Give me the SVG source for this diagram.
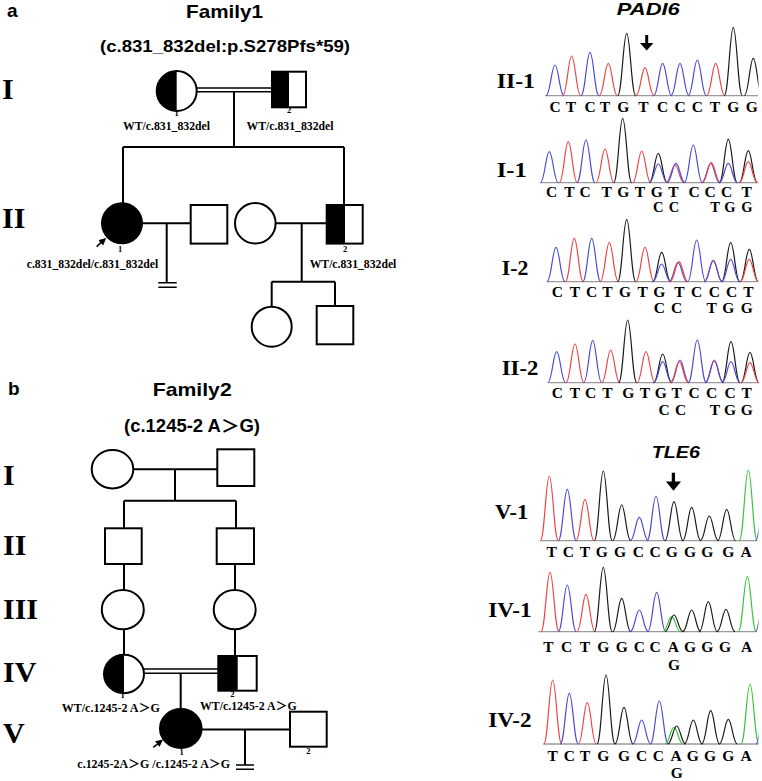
<svg xmlns="http://www.w3.org/2000/svg" xmlns:xlink="http://www.w3.org/1999/xlink" width="762" height="781" viewBox="0 0 762 781">
<style>
.ln{stroke:#000;stroke-width:2;fill:none}
.dl{stroke:#000;stroke-width:1.6;fill:none}
.sym{stroke:#000;stroke-width:2;fill:#fff}
.blk{fill:#000}
.c{stroke:#4b4bd8;fill:none}
.t{stroke:#ee4444;fill:none}
.g{stroke:#1a1a1a;fill:none}
.a{stroke:#3cc43c;fill:none}
.ax{stroke:#9a9a9a;stroke-width:1.3}
.rn{font-family:"Liberation Serif",serif;font-weight:bold;font-size:30px}
.lab{font-family:"Liberation Serif","Noto Sans CJK SC",serif;font-weight:bold;font-size:11.8px;text-anchor:middle}
.num{font-family:"Liberation Serif",serif;font-weight:bold;font-size:8.5px;text-anchor:middle;fill:#000}
.seq{font-family:"Liberation Serif",serif;font-weight:bold;font-size:15.5px;text-anchor:middle}
.seq2{font-family:"Liberation Serif",serif;font-weight:bold;font-size:14.5px;text-anchor:middle}
.sl{font-family:"Liberation Serif",serif;font-weight:bold;font-size:21px}
.hd{font-family:"Liberation Sans","Noto Sans CJK SC",Arial,sans-serif;font-weight:bold}
.gene{font-family:"Liberation Sans",Arial,sans-serif;font-weight:bold;font-style:italic;font-size:17px;text-anchor:middle}
</style>
<defs>
<path id="p" d="M-9,0C-4.8,0 -3.4,-1 0,-1S4.8,0 9,0" vector-effect="non-scaling-stroke" stroke-width="1.2"/>
<marker id="ah" viewBox="0 0 10 10" refX="8" refY="5" markerWidth="4.5" markerHeight="4.5" orient="auto"><path d="M0,0L10,5L0,10z" fill="#000"/></marker>
<clipPath id="cp"><rect x="530" y="0" width="228.5" height="781"/></clipPath>
</defs>

<!-- panel letters and titles -->
<text class="hd" x="7" y="17" font-size="19">a</text>
<text class="hd" x="224.5" y="17.5" font-size="18.5" text-anchor="middle" textLength="77" lengthAdjust="spacingAndGlyphs">Family1</text>
<text class="hd" x="225" y="52" font-size="17" text-anchor="middle" textLength="250" lengthAdjust="spacingAndGlyphs">(c.831_832del:p.S278Pfs*59)</text>
<text class="hd" x="8" y="395" font-size="19">b</text>
<text class="hd" x="192.2" y="396" font-size="18.5" text-anchor="middle" textLength="79" lengthAdjust="spacingAndGlyphs">Family2</text>
<text class="hd" x="192" y="431.7" font-size="17.5" text-anchor="middle" textLength="136" lengthAdjust="spacingAndGlyphs">(c.1245-2 A＞G)</text>

<!-- generation numerals -->
<text class="rn" x="2" y="99">I</text>
<text class="rn" x="2" y="228">II</text>
<text class="rn" x="3" y="485">I</text>
<text class="rn" x="3" y="555">II</text>
<text class="rn" x="3" y="619">III</text>
<text class="rn" x="3" y="681.7">IV</text>
<text class="rn" x="3" y="743">V</text>

<!-- connectors -->
<g id="connectors">
<path class="dl" d="M196.7,88H272M196.7,91.8H272"/>
<path class="ln" d="M234,91.8V147M123,147H344M123,147V203.3M344,147V205"/>
<path class="ln" d="M142,223.3H190.7M166.7,223.3V282.7M275.3,223.3H326.7M301.7,223.3V281.7M271.7,281.7H335M271.7,281.7V306.7M335,281.7V306"/>
<path class="dl" d="M158.3,282.7H176.7M158.3,287.3H176.7"/>
<path class="ln" d="M133.3,469.3H217.3M175,469.3V500.7M124,500.7H236M124,500.7V528.3M236,500.7V528.3M124,564V590M235,564V590M124,629.3V655M235,629.3V656"/>
<path class="dl" d="M144,669H218.3M144,673.3H218.3"/>
<path class="ln" d="M180.7,673.3V709.3M201.7,729.5H290M245,729.5V765"/>
<path class="dl" d="M236,765H254M236,769.3H254"/>
</g>

<!-- Family 1 nodes -->
<g id="f1-I-1">
<circle class="sym" cx="176.7" cy="91" r="20"/>
<path class="blk" d="M176.7,71A20,20 0 0 0 176.7,111Z"/>
<text class="num" x="176.7" y="116">1</text>
<text class="lab" x="166.5" y="130" textLength="87" lengthAdjust="spacingAndGlyphs">WT/c.831_832del</text>
</g>
<g id="f1-I-2">
<rect class="sym" x="272" y="71.7" width="34" height="35.6"/>
<rect class="blk" x="272" y="71.7" width="17" height="35.6"/>
<text class="num" x="289" y="113.3">2</text>
<text class="lab" x="290" y="130" textLength="87" lengthAdjust="spacingAndGlyphs">WT/c.831_832del</text>
</g>
<g id="f1-II-1">
<circle cx="122" cy="223.3" r="20" fill="#000" stroke="#000" stroke-width="2"/>
<path d="M96.7,246.7L105,239" stroke="#000" stroke-width="1.6" marker-end="url(#ah)"/>
<text class="num" x="120" y="251.7">1</text>
<text class="lab" x="92.5" y="268" textLength="131.6" lengthAdjust="spacingAndGlyphs">c.831_832del/c.831_832del</text>
</g>
<g id="f1-II-spouse1">
<rect class="sym" x="190.7" y="205" width="36.6" height="38.6"/>
</g>
<g id="f1-II-spouse2">
<circle class="sym" cx="255.3" cy="223.3" r="20.3"/>
</g>
<g id="f1-II-2">
<rect class="sym" x="326.7" y="205" width="36" height="38.6"/>
<rect class="blk" x="326.7" y="205" width="18.3" height="38.6"/>
<text class="num" x="345" y="251.7">2</text>
<text class="lab" x="353" y="268" textLength="86.7" lengthAdjust="spacingAndGlyphs">WT/c.831_832del</text>
</g>
<g id="f1-III-1">
<circle class="sym" cx="271.7" cy="326.7" r="20"/>
</g>
<g id="f1-III-2">
<rect class="sym" x="316.7" y="306" width="36.6" height="38.3"/>
</g>

<!-- Family 2 nodes -->
<g id="f2-I-1"><ellipse class="sym" cx="112.5" cy="469.2" rx="20.8" ry="19.2"/></g>
<g id="f2-I-2"><rect class="sym" x="217.3" y="449.3" width="37" height="36.7"/></g>
<g id="f2-II-1"><rect class="sym" x="105" y="528.3" width="36.7" height="35.7"/></g>
<g id="f2-II-2"><rect class="sym" x="216.7" y="528.3" width="37.3" height="35.7"/></g>
<g id="f2-III-1"><ellipse class="sym" cx="122.8" cy="609.7" rx="21" ry="19.6"/></g>
<g id="f2-III-2"><ellipse class="sym" cx="234.7" cy="609.7" rx="21" ry="19.6"/></g>
<g id="f2-IV-1">
<ellipse class="sym" cx="124" cy="674" rx="20" ry="19.2"/>
<path class="blk" d="M124,654.8A20,19.2 0 0 0 124,693.2Z"/>
<text class="num" x="122.7" y="698.3">1</text>
<text class="lab" x="110.8" y="711.7" textLength="98.3" lengthAdjust="spacingAndGlyphs">WT/c.1245-2 A＞G</text>
</g>
<g id="f2-IV-2">
<rect class="sym" x="218.3" y="656" width="38.4" height="34.7"/>
<rect class="blk" x="218.3" y="656" width="19.4" height="34.7"/>
<text class="num" x="232.3" y="696.7">2</text>
<text class="lab" x="248.3" y="710" textLength="96.7" lengthAdjust="spacingAndGlyphs">WT/c.1245-2 A＞G</text>
</g>
<g id="f2-V-1">
<ellipse cx="180.8" cy="728.5" rx="20.8" ry="19.5" fill="#000" stroke="#000" stroke-width="2"/>
<path d="M153.3,747.3L161.8,740.5" stroke="#000" stroke-width="1.6" marker-end="url(#ah)"/>
<text class="num" x="181.7" y="755">1</text>
<text class="lab" x="153.7" y="768.3" textLength="152.7" lengthAdjust="spacingAndGlyphs">c.1245-2A＞G /c.1245-2 A＞G</text>
</g>
<g id="f2-V-2">
<rect class="sym" x="290" y="711.7" width="36.7" height="35"/>
<text class="num" x="308.3" y="754.3">2</text>
</g>

<!-- Chromatograms -->
<text class="gene" x="648.3" y="15" textLength="63" lengthAdjust="spacingAndGlyphs">PADI6</text>
<path d="M646.7,35V44" stroke="#000" stroke-width="3"/>
<path d="M640,43H653.4L646.7,50.5Z" fill="#000"/>
<text class="gene" x="675.8" y="458.3" font-size="18.5" textLength="48" lengthAdjust="spacingAndGlyphs">TLE6</text>
<path d="M673.4,472.7V483" stroke="#000" stroke-width="3.3"/>
<path d="M666,481.5H681L673.5,490.7Z" fill="#000"/>

<g id="seq-II-1">
<text class="sl" x="496.7" y="88.3" textLength="38.3" lengthAdjust="spacingAndGlyphs">II-1</text>
<line class="ax" x1="545" y1="95.7" x2="758" y2="95.7"/>
<g clip-path="url(#cp)"><g transform="translate(0,95.7)">
<use href="#p" class="c" transform="translate(555,0) scale(1,30.7)"/>
<use href="#p" class="t" transform="translate(571.7,0) scale(1,39.7)"/>
<use href="#p" class="c" transform="translate(590,0) scale(1,43.4)"/>
<use href="#p" class="t" transform="translate(608.3,0) scale(1,32.4)"/>
<use href="#p" class="g" transform="translate(626.7,0) scale(1,62.4)"/>
<use href="#p" class="t" transform="translate(645,0) scale(1,28)"/>
<use href="#p" class="c" transform="translate(662.7,0) scale(1,32.4)"/>
<use href="#p" class="c" transform="translate(680,0) scale(1,32.4)"/>
<use href="#p" class="c" transform="translate(697.3,0) scale(1,35.7)"/>
<use href="#p" class="t" transform="translate(715.7,0) scale(1,32.4)"/>
<use href="#p" class="g" transform="translate(733.3,0) scale(1,68.4)"/>
<use href="#p" class="g" transform="translate(753.3,0) scale(1,37.4)"/>
</g></g>
<text class="seq" x="555 571 590 605 623.3 643.3 662.7 680 697.3 715 733.3 751.7" y="111.7">CTCTGTCCCTGG</text>
</g>

<g id="seq-I-1">
<text class="sl" x="496.7" y="176.7" textLength="30" lengthAdjust="spacingAndGlyphs">I-1</text>
<line class="ax" x1="540.7" y1="182.7" x2="757.3" y2="182.7"/>
<g clip-path="url(#cp)"><g transform="translate(0,182.7)">
<use href="#p" class="c" transform="translate(549.3,0) scale(1,31)"/>
<use href="#p" class="t" transform="translate(568.3,0) scale(1,41)"/>
<use href="#p" class="c" transform="translate(586,0) scale(1,42.7)"/>
<use href="#p" class="t" transform="translate(605,0) scale(1,33.7)"/>
<use href="#p" class="g" transform="translate(622.7,0) scale(1,64.4)"/>
<use href="#p" class="t" transform="translate(641.7,0) scale(1,31.7)"/>
<use href="#p" class="g" transform="translate(658.3,0) scale(1,29.4)"/>
<use href="#p" class="c" transform="translate(658.3,0) scale(1,18.7)"/>
<use href="#p" class="t" transform="translate(675,0) scale(1,17.7)"/>
<use href="#p" class="c" transform="translate(676,0) scale(1,19.4)"/>
<use href="#p" class="c" transform="translate(693.3,0) scale(1,37.7)"/>
<use href="#p" class="c" transform="translate(710.7,0) scale(1,19.2)"/>
<use href="#p" class="t" transform="translate(711.3,0) scale(1,20)"/>
<use href="#p" class="g" transform="translate(728.3,0) scale(1,43.4)"/>
<use href="#p" class="c" transform="translate(728.3,0) scale(1,19.4)"/>
<use href="#p" class="g" transform="translate(748.3,0) scale(1,32)"/>
<use href="#p" class="t" transform="translate(748.3,0) scale(1,21)"/>
</g></g>
<text class="seq" x="551.7 569.3 585 606.7 623.3 640 656.7 673.3 694 710 726.7 746.7" y="196.8">CTCTGTGTCCCT</text>
<text class="seq2" x="658.3 674 715 730 747" y="212">CCTGG</text>
</g>

<g id="seq-I-2">
<text class="sl" x="501.7" y="275" textLength="26.7" lengthAdjust="spacingAndGlyphs">I-2</text>
<line class="ax" x1="546.7" y1="281.7" x2="757.3" y2="281.7"/>
<g clip-path="url(#cp)"><g transform="translate(0,281.7)">
<use href="#p" class="c" transform="translate(556,0) scale(1,34.4)"/>
<use href="#p" class="t" transform="translate(574.3,0) scale(1,43.4)"/>
<use href="#p" class="c" transform="translate(591.7,0) scale(1,43.4)"/>
<use href="#p" class="t" transform="translate(609.3,0) scale(1,39.4)"/>
<use href="#p" class="g" transform="translate(626.7,0) scale(1,62.4)"/>
<use href="#p" class="t" transform="translate(645,0) scale(1,34.4)"/>
<use href="#p" class="g" transform="translate(661.7,0) scale(1,29.4)"/>
<use href="#p" class="c" transform="translate(661.7,0) scale(1,17.7)"/>
<use href="#p" class="c" transform="translate(678,0) scale(1,19)"/>
<use href="#p" class="t" transform="translate(679,0) scale(1,20)"/>
<use href="#p" class="c" transform="translate(696.7,0) scale(1,41.7)"/>
<use href="#p" class="t" transform="translate(713.3,0) scale(1,21.7)"/>
<use href="#p" class="c" transform="translate(713.3,0) scale(1,20.7)"/>
<use href="#p" class="g" transform="translate(730.7,0) scale(1,39.4)"/>
<use href="#p" class="c" transform="translate(730.7,0) scale(1,22.4)"/>
<use href="#p" class="g" transform="translate(749.3,0) scale(1,32.4)"/>
<use href="#p" class="t" transform="translate(749.3,0) scale(1,22.4)"/>
</g></g>
<text class="seq" x="557.3 575 591.7 607.3 625 642.7 659.3 679.3 696.7 714.3 731.7 748.3" y="297.3">CTCTGTGTCCCT</text>
<text class="seq" x="659.3 676.7 711.7 728.3 746.7" y="313.3">CCTGG</text>
</g>

<g id="seq-II-2">
<text class="sl" x="501.7" y="375" textLength="36.7" lengthAdjust="spacingAndGlyphs">II-2</text>
<line class="ax" x1="549" y1="382.7" x2="758" y2="382.7"/>
<g clip-path="url(#cp)"><g transform="translate(0,382.7)">
<use href="#p" class="c" transform="translate(556.7,0) scale(1,31)"/>
<use href="#p" class="t" transform="translate(575,0) scale(1,38.7)"/>
<use href="#p" class="c" transform="translate(592.7,0) scale(1,42)"/>
<use href="#p" class="t" transform="translate(610.7,0) scale(1,32.7)"/>
<use href="#p" class="g" transform="translate(627.7,0) scale(1,62.7)"/>
<use href="#p" class="t" transform="translate(646,0) scale(1,31)"/>
<use href="#p" class="g" transform="translate(662.7,0) scale(1,28.7)"/>
<use href="#p" class="c" transform="translate(662.7,0) scale(1,21)"/>
<use href="#p" class="c" transform="translate(680,0) scale(1,22.7)"/>
<use href="#p" class="t" transform="translate(679.3,0) scale(1,21)"/>
<use href="#p" class="c" transform="translate(697.3,0) scale(1,42.7)"/>
<use href="#p" class="t" transform="translate(714.3,0) scale(1,22.7)"/>
<use href="#p" class="c" transform="translate(714.3,0) scale(1,21.7)"/>
<use href="#p" class="g" transform="translate(731,0) scale(1,41)"/>
<use href="#p" class="c" transform="translate(731,0) scale(1,21)"/>
<use href="#p" class="g" transform="translate(750,0) scale(1,30.4)"/>
<use href="#p" class="t" transform="translate(750,0) scale(1,20)"/>
</g></g>
<text class="seq" x="557.3 575 590.7 607.3 628.3 645 660.7 676.7 694 711.7 730 746.7" y="398.3">CTCTGTGTCCCT</text>
<text class="seq" x="664 680.7 715 730 746.7" y="415">CCTGG</text>
</g>

<g id="seq-V-1">
<text class="sl" x="495" y="519.3" textLength="33.3" lengthAdjust="spacingAndGlyphs">V-1</text>
<line class="ax" x1="540.7" y1="540.7" x2="756.7" y2="540.7"/>
<g clip-path="url(#cp)"><g transform="translate(0,540.7)">
<use href="#p" class="t" transform="translate(549.3,0) scale(1,64.7)"/>
<use href="#p" class="c" transform="translate(567.3,0) scale(1,51.4)"/>
<use href="#p" class="t" transform="translate(585,0) scale(1,41.4)"/>
<use href="#p" class="g" transform="translate(603.3,0) scale(1,69.7)"/>
<use href="#p" class="g" transform="translate(621.7,0) scale(1,35.7)"/>
<use href="#p" class="c" transform="translate(639.3,0) scale(1,23.4)"/>
<use href="#p" class="c" transform="translate(656,0) scale(1,44.7)"/>
<use href="#p" class="g" transform="translate(674,0) scale(1,39)"/>
<use href="#p" class="g" transform="translate(691.7,0) scale(1,33.4)"/>
<use href="#p" class="g" transform="translate(709.3,0) scale(1,24.7)"/>
<use href="#p" class="g" transform="translate(726.7,0) scale(1,31.4)"/>
<use href="#p" class="a" transform="translate(748.3,0) scale(1,70.7)"/>
<use href="#p" class="c" transform="translate(764.5,0) scale(1,40)"/>
</g></g>
<text class="seq" x="551.7 568.3 585 601.7 620 638.3 655 671.7 690 707.3 728.3 746" y="557.3">TCTGGCCGGGGA</text>
</g>

<g id="seq-IV-1">
<text class="sl" x="488.3" y="616.7" textLength="43.3" lengthAdjust="spacingAndGlyphs">IV-1</text>
<line class="ax" x1="538.3" y1="631.7" x2="756.7" y2="631.7"/>
<g clip-path="url(#cp)"><g transform="translate(0,631.7)">
<use href="#p" class="t" transform="translate(550,0) scale(1,59.4)"/>
<use href="#p" class="c" transform="translate(567.3,0) scale(1,46.7)"/>
<use href="#p" class="t" transform="translate(586,0) scale(1,37.4)"/>
<use href="#p" class="g" transform="translate(603.3,0) scale(1,64.4)"/>
<use href="#p" class="g" transform="translate(621.7,0) scale(1,33.4)"/>
<use href="#p" class="c" transform="translate(639.3,0) scale(1,21.7)"/>
<use href="#p" class="c" transform="translate(656.7,0) scale(1,39.4)"/>
<use href="#p" class="a" transform="translate(671.7,0) scale(1,15)"/>
<use href="#p" class="g" transform="translate(674,0) scale(1,16.7)"/>
<use href="#p" class="g" transform="translate(691.7,0) scale(1,21.7)"/>
<use href="#p" class="g" transform="translate(708.3,0) scale(1,30)"/>
<use href="#p" class="g" transform="translate(726,0) scale(1,22.4)"/>
<use href="#p" class="a" transform="translate(747.3,0) scale(1,55)"/>
<use href="#p" class="c" transform="translate(764.5,0) scale(1,40)"/>
</g></g>
<text class="seq" x="548.3 566.7 585 603.3 621.7 639.3 655 673.3 690 707.3 725 746.7" y="651.7">TCTGGCCAGGGA</text>
<text class="seq" x="674" y="670">G</text>
</g>

<g id="seq-IV-2">
<text class="sl" x="488.3" y="726.7" textLength="43.3" lengthAdjust="spacingAndGlyphs">IV-2</text>
<line class="ax" x1="543.3" y1="744" x2="758.3" y2="744"/>
<g clip-path="url(#cp)"><g transform="translate(0,744)">
<use href="#p" class="t" transform="translate(552.7,0) scale(1,64)"/>
<use href="#p" class="c" transform="translate(569.3,0) scale(1,50.7)"/>
<use href="#p" class="t" transform="translate(587.3,0) scale(1,41.3)"/>
<use href="#p" class="g" transform="translate(606,0) scale(1,69)"/>
<use href="#p" class="g" transform="translate(624,0) scale(1,36.7)"/>
<use href="#p" class="c" transform="translate(641.7,0) scale(1,24)"/>
<use href="#p" class="c" transform="translate(659.3,0) scale(1,43)"/>
<use href="#p" class="a" transform="translate(674,0) scale(1,16.7)"/>
<use href="#p" class="g" transform="translate(676.7,0) scale(1,18)"/>
<use href="#p" class="g" transform="translate(693.3,0) scale(1,24)"/>
<use href="#p" class="g" transform="translate(710.7,0) scale(1,33.3)"/>
<use href="#p" class="g" transform="translate(728.3,0) scale(1,24.7)"/>
<use href="#p" class="a" transform="translate(750,0) scale(1,60)"/>
<use href="#p" class="c" transform="translate(765,0) scale(1,40)"/>
</g></g>
<text class="seq" x="552.7 569.3 585 603.3 624 641.7 658.3 676 692.7 710 728.3 746" y="760.7">TCTGGCCAGGGA</text>
<text class="seq" x="676.7" y="778.3">G</text>
</g>
</svg>
